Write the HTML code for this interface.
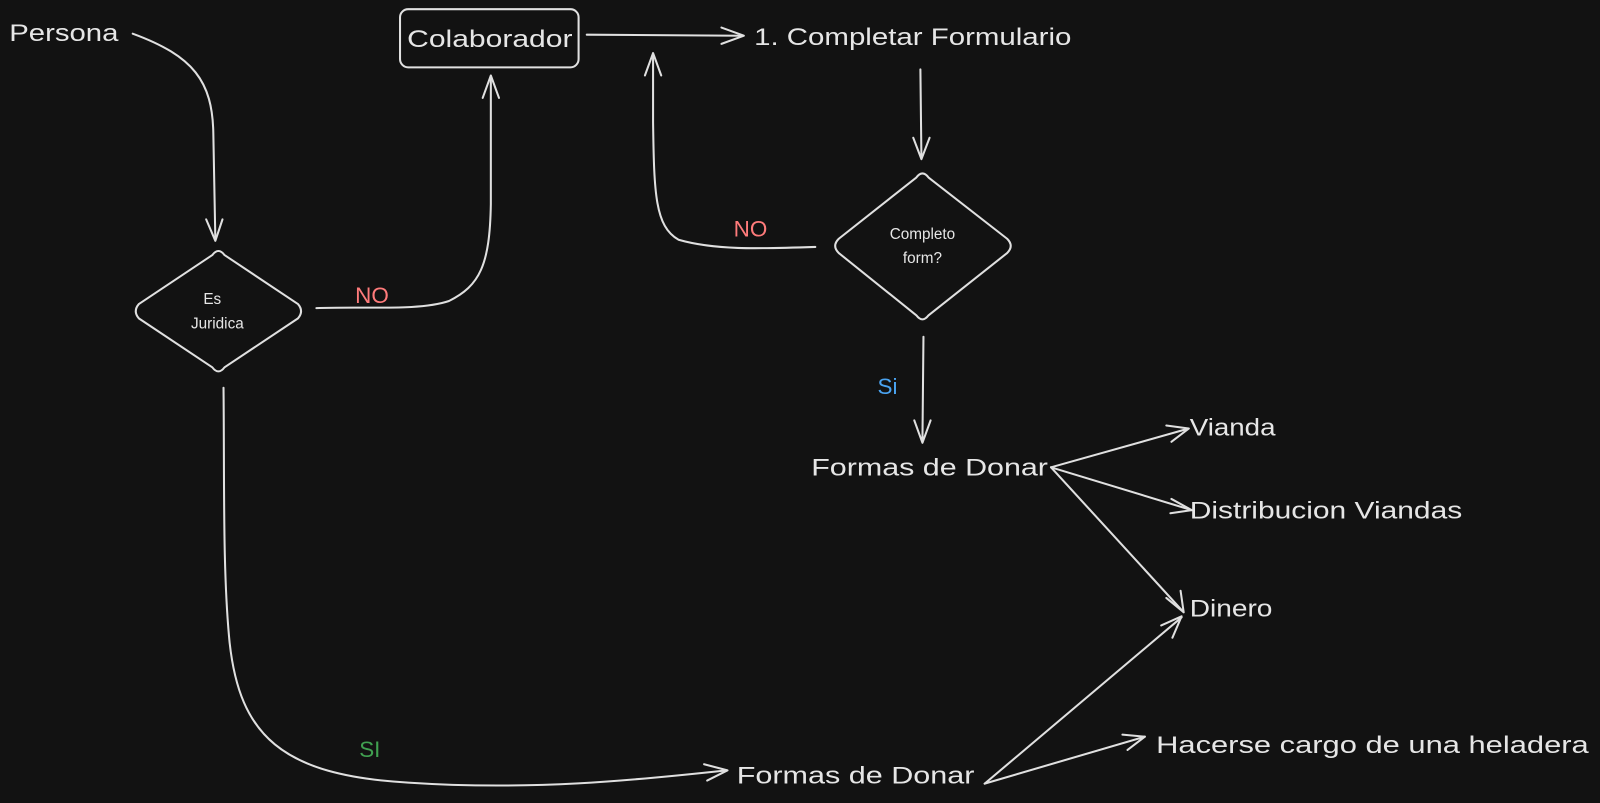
<!DOCTYPE html>
<html><head><meta charset="utf-8"><style>
html,body{margin:0;padding:0;background:#121212;width:1600px;height:803px;overflow:hidden}
svg{display:block}
text{font-family:"Liberation Sans",sans-serif;fill:#e6e6e6}
</style></head><body>
<svg width="1600" height="803" viewBox="0 0 1568 787" xmlns="http://www.w3.org/2000/svg">
<rect width="1568" height="787" fill="#121212"/>
<g fill="none" stroke="#e0e0e0" stroke-width="2" stroke-linecap="round" stroke-linejoin="round">
<rect x="392" y="9" width="175" height="57" rx="8"/>
<path d="M208 250 Q214 242 220 250 L292 298 Q298 305 292 312 L220 360 Q214 368 208 360 L136 312 Q130 305 136 298 Z"/>
<path d="M898 174 Q904 166 910 174 L987 234 Q994 241 987 248 L910 309 Q904 317 898 309 L822 248 Q815 241 822 234 Z"/>
<path d="M130 33 C190 55 208 80 209 130 L211 235"/>
<path d="M202 215 L211 236 L218 215"/>
<path d="M310 302 C360 300 410 305 440 295 C470 280 480 260 481 200 L481 75"/>
<path d="M473 96 L481 74 L489 96"/>
<path d="M575 34 L728 35"/>
<path d="M707 27 L729 35 L707 43"/>
<path d="M902 68 L903 155"/>
<path d="M895 135 L903 156 L911 135"/>
<path d="M799 242 C740 244 700 245 665 235 C642 222 641 190 640 120 L640 53"/>
<path d="M632 74 L640 52 L648 74"/>
<path d="M905 330 L904 432"/>
<path d="M896 412 L904 434 L912 412"/>
<path d="M1030 458 L1165 420"/>
<path d="M1143 417 L1165 420 L1148 433"/>
<path d="M1030 458 L1168 500"/>
<path d="M1148 489 L1168 500 L1147 503"/>
<path d="M1030 458 L1160 600"/>
<path d="M1143 586 L1160 600 L1157 579"/>
<path d="M219 380 C220 470 218 560 225 630 C235 720 275 760 400 767 C520 775 620 765 712 755"/>
<path d="M690 749 L713 755 L693 765"/>
<path d="M965 768 L1158 605"/>
<path d="M1149 625 L1158 604 L1138 613"/>
<path d="M965 768 L1122 722"/>
<path d="M1100 720 L1122 722 L1105 735"/>
</g>
<g font-size="24" lengthAdjust="spacingAndGlyphs">
<text x="9" y="40" textLength="107" lengthAdjust="spacingAndGlyphs">Persona</text>
<text x="399" y="46" textLength="162" lengthAdjust="spacingAndGlyphs">Colaborador</text>
<text x="739" y="44" textLength="311" lengthAdjust="spacingAndGlyphs">1. Completar Formulario</text>
<text x="795" y="466" textLength="232" lengthAdjust="spacingAndGlyphs">Formas de Donar</text>
<text x="1166" y="427" textLength="84" lengthAdjust="spacingAndGlyphs">Vianda</text>
<text x="1166" y="508" textLength="267" lengthAdjust="spacingAndGlyphs">Distribucion Viandas</text>
<text x="1166" y="604" textLength="81" lengthAdjust="spacingAndGlyphs">Dinero</text>
<text x="722" y="768" textLength="233" lengthAdjust="spacingAndGlyphs">Formas de Donar</text>
<text x="1133" y="738" textLength="424" lengthAdjust="spacingAndGlyphs">Hacerse cargo de una heladera</text>
</g>
<g font-size="15" text-anchor="middle">
<text x="208" y="298">Es</text>
<text x="213" y="322">Juridica</text>
<text x="904" y="234">Completo</text>
<text x="904" y="258">form?</text>
</g>
<g font-size="22">
<text x="348" y="297" style="fill:#ff7b7b">NO</text>
<text x="719" y="232" style="fill:#ff7b7b">NO</text>
<text x="860" y="386" style="fill:#4aa3f0">Si</text>
<text x="352" y="742" style="fill:#40a050">SI</text>
</g>
</svg>
</body></html>
